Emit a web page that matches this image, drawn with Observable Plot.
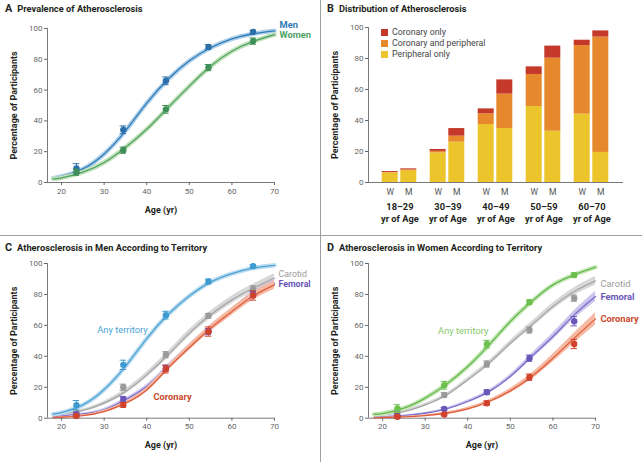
<!DOCTYPE html>
<html><head><meta charset="utf-8">
<script src="https://cdn.jsdelivr.net/npm/d3@7"></script>
<script src="https://cdn.jsdelivr.net/npm/@observablehq/plot@0.6"></script>
<style>
body{margin:0;background:#fff;}
#fig{position:relative;width:642px;height:462px;overflow:hidden;background:#fff;font-family:Roboto,"Noto Sans",sans-serif;}
.panel{position:absolute;}
.title{position:absolute;font-weight:700;font-size:9.3px;line-height:12px;color:#231f20;white-space:nowrap;}
.title .L{font-size:10.8px;margin-right:5px;}
.vline{position:absolute;left:320px;top:0;width:1px;height:462px;background:#a0a0a0;}
.hline{position:absolute;left:0;top:235px;width:642px;height:1px;background:#a0a0a0;}
.leg{position:absolute;left:381px;height:12px;line-height:12px;font-size:8.8px;color:#444;white-space:nowrap;}
.leg i{display:inline-block;width:7px;height:7px;margin-right:4px;vertical-align:-0.5px;}
</style></head>
<body>
<div id="fig"></div>
<script>
// ---------- shared ----------
const ages = [23.5, 34.5, 44.5, 54.5, 65];
const curveAges = [18, 20, 25, 30, 35, 40, 45, 50, 55, 60, 65, 70];
const yTicks = [0, 20, 40, 60, 80, 100];
const xTicks = [20, 30, 40, 50, 60, 70];

// ---------- Panel A ----------
const menCurve   = [2.8, 3.9, 8.8, 18.5, 33.5, 51.5, 67, 79, 87.5, 93.3, 96.6, 98.5];
const womenCurve = [2.4, 3.0, 6.7, 13, 22.8, 34.6, 48.6, 62.6, 75.5, 85.2, 91.6, 96];
const menPts   = [9.2, 34.2, 66, 88, 97.8];
const menErr   = [3, 2.5, 2.5, 1.5, 1];
const womenPts = [6.7, 21, 47.5, 74.6, 91.8];
const womenErr = [2, 2, 2.5, 2, 2];

// ---------- Panel B ----------
const groups = ["18–29", "30–39", "40–49", "50–59", "60–70"];
const sexes = ["W", "M"];
const types = ["Peripheral only", "Coronary and peripheral", "Coronary only"];
const peripheralOnly        = [6.2, 7.7, 19.1, 26.0, 37.4, 34.8, 49.0, 33.1, 44.1, 19.4];
const coronaryAndPeripheral = [0.3, 0.4, 1.0, 3.9, 6.9, 22.2, 20.7, 47.1, 44.3, 74.4];
const coronaryOnly          = [0.6, 0.7, 1.2, 4.9, 3.2, 9.2, 4.9, 7.8, 3.4, 4.0];

// ---------- Panel C (men by territory) ----------
const anyMenCurve      = [2.6, 3.6, 8.6, 18.5, 33.5, 51.5, 67, 79, 88, 93.5, 97, 98.8];
const carotidMenCurve  = [1.7, 2.4, 5.0, 9.7, 17.2, 28, 41, 55, 66.8, 76.5, 84, 90.5];
const femoralMenCurve  = [0.9, 1.3, 2.8, 5.4, 11.9, 20.5, 33.4, 46.3, 58.2, 69, 79.7, 87.3];
const coronaryMenCurve = [0.4, 0.6, 1.7, 4.3, 9.7, 18.3, 32.3, 45.7, 58.2, 69, 79, 86.2];
const carotidMenCI  = [0.6, 0.8, 1.0, 1.3, 1.6, 1.9, 2.1, 2.3, 2.4, 2.5, 2.6, 2.8];
const femoralMenCI  = [0.3, 0.4, 0.6, 0.9, 1.1, 1.3, 1.5, 1.7, 1.9, 2.1, 2.3, 2.5];
const coronaryMenCI = [0.2, 0.3, 0.5, 0.8, 1.1, 1.4, 1.7, 2.0, 2.2, 2.4, 2.6, 2.8];
const anyMenPts      = [8.4, 34.5, 66.6, 88.4, 98.3];
const anyMenErr      = [3, 3, 2.5, 1.5, 1];
const carotidMenPts  = [3.2, 20, 41, 66.2, 83.6];
const carotidMenErr  = [1.5, 2, 2, 1.5, 2];
const femoralMenPts  = [2.6, 12.5, 32.3, 56, 80];
const femoralMenErr  = [1, 1.5, 2, 2, 2];
const coronaryMenPts = [1.5, 8.6, 31.7, 56, 79.3];
const coronaryMenErr = [1, 1.5, 2.5, 3, 3];

// ---------- Panel D (women by territory) ----------
const anyWomenCurve      = [2.6, 3.0, 6.5, 13, 22, 33.4, 47.4, 62.5, 75.4, 86.2, 92.7, 97.6];
const carotidWomenCurve  = [1.7, 2.2, 4.3, 8.6, 15, 24.8, 35.6, 48.5, 60.3, 72.2, 81.9, 88.8];
const femoralWomenCurve  = [0.6, 0.9, 1.7, 3.2, 6.0, 10.8, 17.2, 27, 39.9, 52.8, 66.8, 78.7];
const coronaryWomenCurve = [0.2, 0.4, 0.9, 1.7, 3.2, 6.0, 10.8, 17.7, 27, 38.8, 51.7, 64.2];
const carotidWomenCI  = [0.5, 0.6, 0.8, 1.0, 1.2, 1.4, 1.6, 1.8, 2.0, 2.2, 2.5, 2.8];
const femoralWomenCI  = [0.2, 0.3, 0.4, 0.5, 0.7, 0.9, 1.1, 1.4, 1.8, 2.2, 2.7, 3.2];
const coronaryWomenCI = [0.2, 0.2, 0.3, 0.5, 0.8, 1.0, 1.2, 1.5, 2.0, 2.5, 3.2, 4.0];
const anyWomenPts      = [6.2, 21.3, 47.8, 75, 92.5];
const anyWomenErr      = [2.5, 2.5, 2.5, 1.5, 1.5];
const carotidWomenPts  = [4, 15, 35, 57, 77.6];
const carotidWomenErr  = [1, 1.5, 2, 2, 2];
const femoralWomenPts  = [1.5, 6, 16.8, 38.8, 62.7];
const femoralWomenErr  = [1, 1, 1.5, 2, 3];
const coronaryWomenPts = [0.9, 2.4, 9.7, 26.5, 48];
const coronaryWomenErr = [0.8, 0.8, 1.5, 2, 3];

// ---------- styles ----------
const FONT = 'Roboto, "Noto Sans", sans-serif';
const AXIS = "#7a7a7a";
const XMIN = 16.7;
const C = {
  men:   {line: "#2f7ab5", band: "#aed0ea", pt: "#2b6fa9"},
  women: {line: "#4fa366", band: "#c3e2b9", pt: "#3e8f58"},
  anyM:  {line: "#4aa3d4", band: "#bddcf0", pt: "#3d9bd0", text: "#4aa3d4"},
  anyW:  {line: "#62b84c", band: "#c9e8b9", pt: "#6cc04e", text: "#86c96a"},
  car:   {line: "#a6a6a6", band: "#d8d8d8", pt: "#9a9a9a", text: "#9c9c9c"},
  fem:   {line: "#7b6dcc", band: "#cbc5ec", pt: "#6a55b8", text: "#6a55b8"},
  cor:   {line: "#df5d3c", band: "#f5b8a2", pt: "#d0422c", text: "#c9482c"}
};
const barColors = ["#ebc52b", "#e5892c", "#c4392a"];

const yLabel = () => Plot.text(["Percentage of Participants"], {
  frameAnchor: "left", rotate: -90, dx: -33, textAnchor: "middle", lineAnchor: "middle",
  fontWeight: "bold", fontSize: 9, fill: "#231f20"
});

function linePanel(series, o) {
  const marks = [
    Plot.ruleY([0], {stroke: AXIS}),
    Plot.ruleX([XMIN], {stroke: AXIS}),
    Plot.axisY({ticks: yTicks, tickSize: 3, tickPadding: 2, color: "#666", label: null, fontSize: 8}),
    Plot.axisX({ticks: xTicks, tickSize: 3, tickPadding: 2.5, color: "#666", label: null, fontSize: 8}),
    yLabel(),
    Plot.text(["Age (yr)"], {frameAnchor: "bottom", dy: o.xLabelDy, textAnchor: "middle", lineAnchor: "middle",
      fontWeight: "bold", fontSize: 9, fill: "#231f20"})
  ];
  const cds = series.map(s => curveAges.map((a, i) => ({age: a, v: s.curve[i], ci: s.ci ? s.ci[i] : 0})));
  series.forEach((s, k) => {
    const cd = cds[k];
    if (s.ci) marks.push(Plot.areaY(cd, {x: "age", y1: d => d.v - d.ci, y2: d => d.v + d.ci, fill: s.c.band, curve: "natural"}));
    else marks.push(Plot.line(cd, {x: "age", y: "v", stroke: s.c.band, strokeWidth: 4.5, curve: "natural"}));
    marks.push(Plot.line(cd, {x: "age", y: "v", stroke: s.c.line, strokeWidth: 1.3, curve: "natural"}));
  });
  series.forEach(s => {
    const pd = ages.map((a, i) => ({age: a, v: s.pts[i], e: s.err[i]}));
    marks.push(
      Plot.ruleX(pd, {x: "age", y1: d => d.v - d.e, y2: d => d.v + d.e, stroke: s.c.pt, strokeWidth: 1}),
      Plot.ruleY(pd, {y: d => d.v - d.e, x1: d => d.age - 0.75, x2: d => d.age + 0.75, stroke: s.c.pt, strokeWidth: 1}),
      Plot.ruleY(pd, {y: d => d.v + d.e, x1: d => d.age - 0.75, x2: d => d.age + 0.75, stroke: s.c.pt, strokeWidth: 1}),
      Plot.dot(pd, {x: "age", y: "v", r: 3.2, fill: s.c.pt})
    );
  });
  series.forEach(s => {
    if (!s.label) return;
    const L = s.label;
    const i = L.at;
    marks.push(Plot.text([{age: curveAges[i], v: s.curve[i]}], {
      x: "age", y: "v", text: () => s.name, dx: L.dx, dy: L.dy, textAnchor: L.anchor || "start",
      fill: s.c.text || s.c.line, fontWeight: L.weight || "bold", fontSize: L.size || 9.3
    }));
  });
  return Plot.plot({
    width: 321, height: o.height,
    marginLeft: 47, marginRight: 47, marginTop: o.marginTop, marginBottom: o.marginBottom,
    x: {domain: [XMIN, 70]}, y: {domain: [0, 100]},
    style: {fontFamily: FONT, fontSize: "8px", background: "transparent", overflow: "visible"},
    marks
  });
}

function barPanel() {
  const keys = groups.flatMap(g => sexes.map(s => g + " " + s));
  const cols = [peripheralOnly, coronaryAndPeripheral, coronaryOnly];
  const data = [];
  keys.forEach((k, i) => types.forEach((t, j) => data.push({key: k, sex: k.split(" ")[1], type: t, v: cols[j][i]})));
  const wKeys = keys.filter(k => k.endsWith("W"));
  const mKeys = keys.filter(k => k.endsWith("M"));
  return Plot.plot({
    width: 321, height: 231,
    marginLeft: 47, marginRight: 19, marginTop: 27, marginBottom: 49,
    x: {type: "band", domain: keys, paddingInner: 0.33, paddingOuter: 0.32},
    y: {domain: [0, 100]},
    color: {domain: types, range: barColors},
    style: {fontFamily: FONT, fontSize: "8px", background: "transparent", overflow: "visible"},
    marks: [
      Plot.barY(data.filter(d => d.sex === "W"), {x: "key", y: "v", fill: "type", dx: 2.7}),
      Plot.barY(data.filter(d => d.sex === "M"), {x: "key", y: "v", fill: "type", dx: -2.7}),
      Plot.ruleY([0], {stroke: AXIS}),
      Plot.frame({anchor: "left", stroke: AXIS}),
      Plot.axisY({ticks: yTicks, tickSize: 3, tickPadding: 2, color: "#666", label: null, fontSize: 8}),
      Plot.axisX(wKeys, {tickSize: 0, tickPadding: 6, tickFormat: d => d.split(" ")[1], dx: 2.7, label: null, color: "#555", fontSize: 8.5}),
      Plot.axisX(mKeys, {tickSize: 0, tickPadding: 6, tickFormat: d => d.split(" ")[1], dx: -2.7, label: null, color: "#555", fontSize: 8.5}),
      Plot.text(wKeys, {x: d => d, text: d => d.split(" ")[0] + "\nyr of Age", frameAnchor: "bottom", dx: 12.4, dy: 30,
        textAnchor: "middle", lineAnchor: "middle", lineHeight: 1.3, fontWeight: "bold", fontSize: 9.3, fill: "#231f20"}),
      yLabel()
    ]
  });
}

const fig = document.getElementById("fig");
function place(node, left, top) {
  const d = document.createElement("div");
  d.className = "panel"; d.style.left = left + "px"; d.style.top = top + "px";
  d.appendChild(node); fig.appendChild(d);
}

place(linePanel([
  {name: "Men", c: C.men, curve: menCurve, pts: menPts, err: menErr, label: {at: 11, dx: 5, dy: -6}},
  {name: "Women", c: C.women, curve: womenCurve, pts: womenPts, err: womenErr, label: {at: 11, dx: 5, dy: 0}}
], {height: 231, marginTop: 28, marginBottom: 49, xLabelDy: 28}), 0, 0);

place(barPanel(), 321, 0);

place(linePanel([
  {name: "Carotid", c: C.car, curve: carotidMenCurve, ci: carotidMenCI, pts: carotidMenPts, err: carotidMenErr, label: {at: 11, dx: 4, dy: -4.5, weight: "normal", size: 8.8}},
  {name: "Femoral", c: C.fem, curve: femoralMenCurve, ci: femoralMenCI, pts: femoralMenPts, err: femoralMenErr, label: {at: 11, dx: 4, dy: 1.5, size: 8.8}},
  {name: "Coronary", c: C.cor, curve: coronaryMenCurve, ci: coronaryMenCI, pts: coronaryMenPts, err: coronaryMenErr, label: {at: 6, dx: 4.5, dy: 29, anchor: "middle"}},
  {name: "Any territory", c: C.anyM, curve: anyMenCurve, pts: anyMenPts, err: anyMenErr, label: {at: 4, dx: -3, dy: -36, anchor: "middle", weight: "normal"}}
], {height: 227, marginTop: 28, marginBottom: 44.3, xLabelDy: 27.3}), 0, 235);

place(linePanel([
  {name: "Carotid", c: C.car, curve: carotidWomenCurve, ci: carotidWomenCI, pts: carotidWomenPts, err: carotidWomenErr, label: {at: 11, dx: 5, dy: 3, weight: "normal"}},
  {name: "Femoral", c: C.fem, curve: femoralWomenCurve, ci: femoralWomenCI, pts: femoralWomenPts, err: femoralWomenErr, label: {at: 11, dx: 5, dy: 1}},
  {name: "Coronary", c: C.cor, curve: coronaryWomenCurve, ci: coronaryWomenCI, pts: coronaryWomenPts, err: coronaryWomenErr, label: {at: 11, dx: 5, dy: 0}},
  {name: "Any territory", c: C.anyW, curve: anyWomenCurve, pts: anyWomenPts, err: anyWomenErr, label: {at: 5, dx: -4.5, dy: -36, anchor: "middle", weight: "normal"}}
], {height: 227, marginTop: 28, marginBottom: 44.3, xLabelDy: 27.3}), 321, 235);

// titles, legend, separators
function addDiv(cls, html, left, top) {
  const d = document.createElement("div");
  d.className = cls; d.innerHTML = html;
  d.style.left = left + "px"; d.style.top = top + "px";
  fig.appendChild(d);
}
addDiv("title", '<span class="L">A</span>Prevalence of Atherosclerosis', 5, 3);
addDiv("title", '<span class="L">B</span>Distribution of Atherosclerosis', 327, 3);
addDiv("title", '<span class="L">C</span>Atherosclerosis in Men According to Territory', 5, 242);
addDiv("title", '<span class="L">D</span>Atherosclerosis in Women According to Territory', 327, 242);
[types[2], types[1], types[0]].forEach((t, i) => {
  addDiv("leg", '<i style="background:' + barColors[types.indexOf(t)] + '"></i>' + t, 381, 26.3 + i * 11);
});
addDiv("vline", "", 320, 0);
addDiv("hline", "", 0, 235);
</script>
</body></html>
